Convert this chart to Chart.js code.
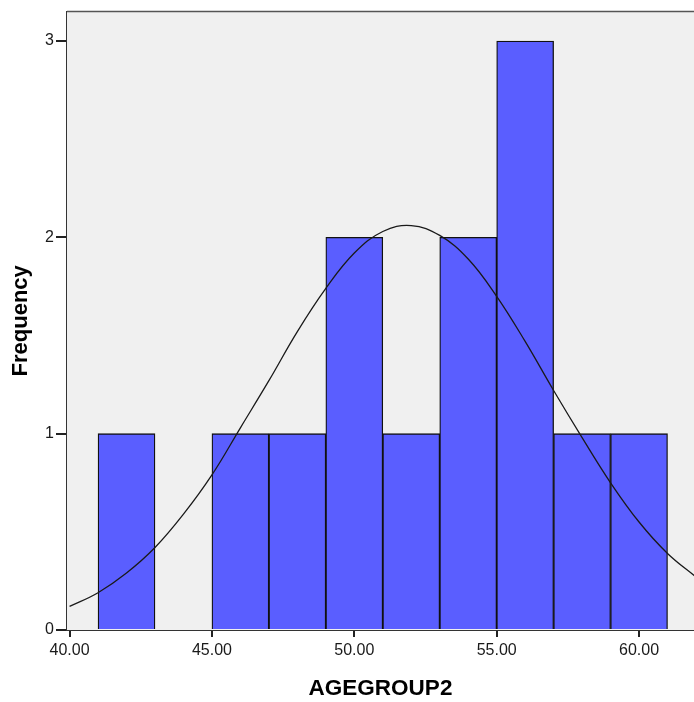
<!DOCTYPE html>
<html>
<head>
<meta charset="utf-8">
<script src="https://cdn.jsdelivr.net/npm/chart.js@4.4.1/dist/chart.umd.min.js"></script>
<style>
    html, body { margin: 0; padding: 0; background: #ffffff; }
    #myChart { display: block; }
</style>
</head>
<body>
<canvas id="myChart" width="694" height="702"></canvas>
<script>
// histogram bins (midpoints, width 2) and counts
var binMids = [42, 46, 48, 50, 52, 54, 56, 58, 60];
var freq = [1, 1, 1, 2, 1, 2, 3, 1, 1];
// normal curve
var curveX = [40, 41, 42, 43, 44, 45, 46, 47, 48, 49, 50, 51, 52, 53, 54, 55, 56, 57, 58, 59, 60, 61, 62];
var curveY = [0.12, 0.19, 0.29, 0.42, 0.59, 0.79, 1.03, 1.27, 1.52, 1.74, 1.92, 2.03, 2.06, 2.01, 1.89, 1.70, 1.47, 1.22, 0.98, 0.75, 0.55, 0.39, 0.27];
var xTicks = [40, 45, 50, 55, 60];
var yTicks = [0, 1, 2, 3];

var bars = [];
for (var i = 0; i < binMids.length; i++) {
    bars.push({ x: binMids[i], y: freq[i] });
}
var curve = [];
for (var j = 0; j < curveX.length; j++) {
    curve.push({ x: curveX[j], y: curveY[j] });
}

/** plot background + top frame line */
var frame = {
    id: "frame",
    beforeDatasetsDraw: function (chart) {
        var a = chart.chartArea;
        var ctx = chart.ctx;
        ctx.save();
        ctx.fillStyle = "#f0f0f0";
        ctx.fillRect(a.left, a.top, a.right - a.left, a.bottom - a.top);
        ctx.restore();
    },
    afterDraw: function (chart) {
        var a = chart.chartArea;
        var ctx = chart.ctx;
        ctx.save();
        ctx.strokeStyle = "#555555";
        ctx.lineWidth = 1.5;
        ctx.beginPath();
        ctx.moveTo(a.left, a.top);
        ctx.lineTo(a.right, a.top);
        ctx.stroke();
        ctx.restore();
    },
};

var font = "Arial, 'Liberation Sans', sans-serif";
const ctx = document.getElementById("myChart");
var myChart = new Chart(ctx, {
    type: "bar",
    data: {
        datasets: [
            {
                type: "line",
                data: curve,
                borderColor: "#1a1a1a",
                borderWidth: 1.3,
                pointRadius: 0,
                tension: 0.4,
                fill: false,
                order: 0,
            },
            {
                type: "bar",
                data: bars,
                backgroundColor: "#5a5eff",
                borderColor: "#111111",
                borderWidth: 1.3,
                barPercentage: 1,
                categoryPercentage: 1,
                order: 1,
            },
        ],
    },
    options: {
        responsive: false,
        animation: false,
        layout: { padding: { top: 7, right: 0, bottom: 0, left: 0 } },
        plugins: {
            legend: { display: false },
            tooltip: { enabled: false },
        },
        scales: {
            x: {
                type: "linear",
                position: "bottom",
                min: 39.91,
                max: 61.93,
                offset: false,
                afterBuildTicks: function (s) {
                    s.ticks = xTicks.map(function (v) { return { value: v }; });
                },
                afterFit: function (s) { s.height = 72; },
                ticks: {
                    autoSkip: false,
                    maxRotation: 0,
                    padding: 4,
                    color: "#1a1a1a",
                    font: { family: font, size: 16 },
                    callback: function (v) { return Number(v).toFixed(2); },
                },
                grid: { offset: false, drawOnChartArea: false, drawTicks: true, tickLength: 7, color: "#222222", lineWidth: 2 },
                border: { color: "#333333", width: 2 },
                title: {
                    display: true,
                    text: "AGEGROUP2",
                    color: "#000000",
                    font: { family: font, size: 22.5, weight: "bold" },
                    padding: { top: 2, bottom: 0 },
                },
            },
            y: {
                min: 0,
                max: 3.15,
                afterBuildTicks: function (s) {
                    s.ticks = yTicks.map(function (v) { return { value: v }; });
                },
                afterFit: function (s) { s.width = 67; },
                ticks: {
                    padding: 2,
                    color: "#1a1a1a",
                    font: { family: font, size: 16 },
                },
                grid: { offset: false, drawOnChartArea: false, drawTicks: true, tickLength: 11, color: "#222222", lineWidth: 2 },
                border: { color: "#333333", width: 2 },
                title: {
                    display: true,
                    text: "Frequency",
                    color: "#000000",
                    font: { family: font, size: 22, weight: "bold" },
                    padding: { top: 8, bottom: 0 },
                },
            },
        },
    },
    plugins: [frame],
});
</script>
</body>
</html>
